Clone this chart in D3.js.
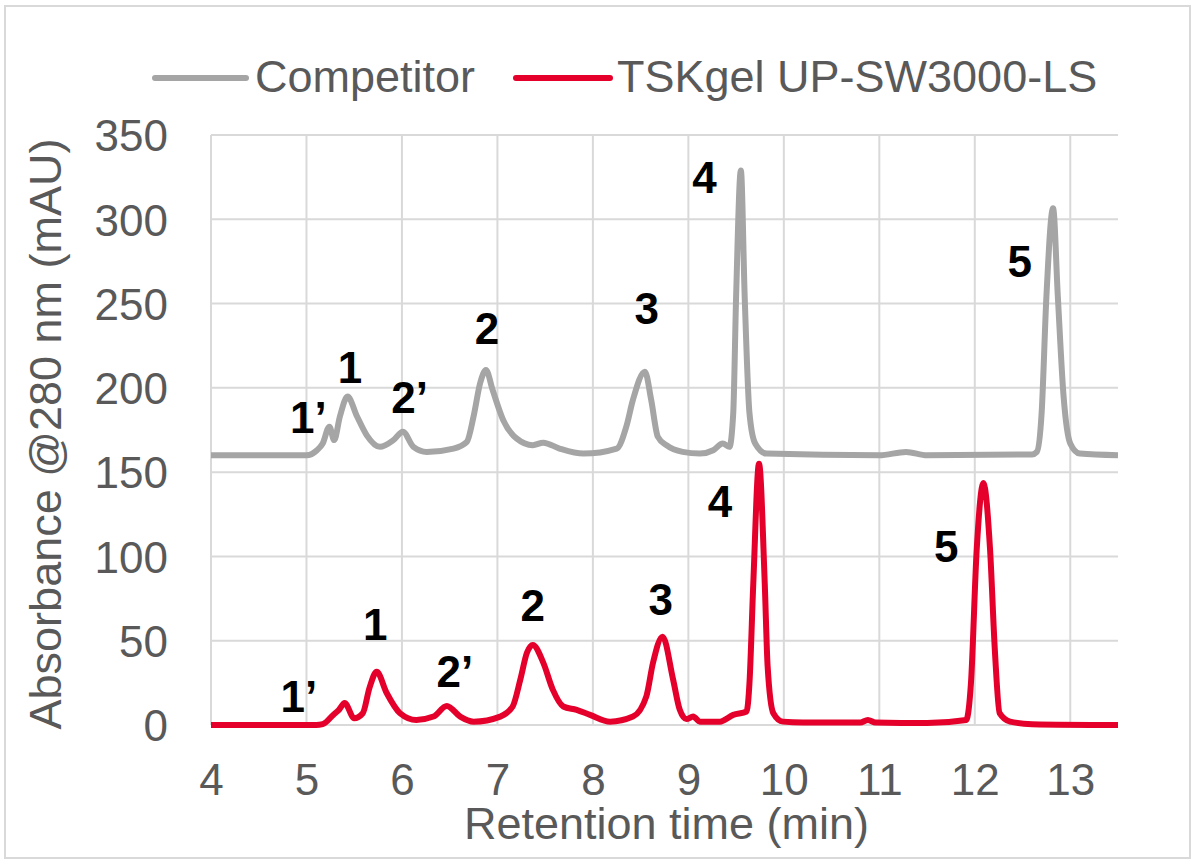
<!DOCTYPE html>
<html>
<head>
<meta charset="utf-8">
<script src="https://cdn.jsdelivr.net/npm/d3@7"></script>
<style>
  html, body { margin: 0; padding: 0; background: #fff; }
  svg { display: block; }
  text { font-family: "Liberation Sans", Arial, sans-serif; }
</style>
</head>
<body>
<svg id="chart" width="1196" height="866"></svg>
<script>
// ---- Data ----
const seriesNames = ["Competitor", "TSKgel UP-SW3000-LS"];
const seriesColors = ["#a5a5a5", "#e4002b"];

const xTicks = [4, 5, 6, 7, 8, 9, 10, 11, 12, 13];
const yTicks = [0, 50, 100, 150, 200, 250, 300, 350];

// Competitor trace (retention time, absorbance)
const competitorTime = [4.0, 5.0, 5.11, 5.17, 5.24, 5.29, 5.35, 5.43, 5.53, 5.63, 5.77, 5.91, 6.01, 6.12, 6.26, 6.54, 6.68, 6.75, 6.82, 6.88, 6.95, 7.06, 7.20, 7.37, 7.48, 7.65, 7.90, 8.25, 8.35, 8.42, 8.545, 8.61, 8.68, 8.77, 8.94, 9.12, 9.26, 9.36, 9.43, 9.47, 9.50, 9.55, 9.59, 9.64, 9.70, 9.82, 11.0, 11.28, 11.5, 12.6, 12.65, 12.70, 12.75, 12.82, 12.87, 12.93, 13.0, 13.10, 13.5];
const competitorAbs  = [160, 160, 163, 167, 177, 169, 183, 194.8, 183, 172, 165, 169, 174, 165, 162, 164, 168, 183, 203, 210.6, 198.7, 181, 170, 166, 167.5, 164, 161, 164, 177, 193, 209.6, 193, 171, 166, 162, 161, 163, 167, 165, 185, 254, 329, 254, 185, 167, 161, 160, 162, 160, 160.5, 162, 185, 254, 306.5, 254, 195, 167, 161, 160];

// TSKgel trace
const tskTime = [4.0, 5.1, 5.17, 5.28, 5.34, 5.40, 5.50, 5.59, 5.66, 5.735, 5.84, 5.98, 6.15, 6.33, 6.47, 6.61, 6.75, 7.03, 7.16, 7.24, 7.31, 7.37, 7.48, 7.58, 7.69, 7.83, 7.97, 8.18, 8.42, 8.56, 8.63, 8.73, 8.84, 8.91, 8.98, 9.05, 9.12, 9.33, 9.47, 9.61, 9.64, 9.68, 9.74, 9.80, 9.83, 9.89, 9.99, 10.2, 10.8, 10.88, 10.96, 11.5, 11.91, 11.96, 12.02, 12.09, 12.16, 12.21, 12.26, 12.37, 12.6, 13.5];
const tskAbs  = [0, 0, 0.5, 6, 9, 13, 4, 7, 22, 31.6, 19, 7, 3, 5, 11.3, 5, 2, 5, 11, 27, 43, 47.5, 37, 21, 11, 9, 6, 2, 5, 17, 37, 52.4, 27, 9, 3.5, 5, 2, 2, 6, 8, 25, 84, 155, 84, 35, 7, 2, 1.5, 1.5, 3, 1.5, 1.2, 3, 25, 104, 143.5, 104, 44.5, 7, 2, 0.5, 0];

// Peak labels (text, retention time of label centre, absorbance at label baseline)
const competitorLabelText = ["1’", "1", "2’", "2", "3", "4", "5"];
const competitorLabelX    = [5.02, 5.455, 6.08, 6.89, 8.565, 9.17, 12.47];
const competitorLabelY    = [173.2, 202.9, 185.1, 226, 237.9, 315.6, 265.8];

const tskLabelText = ["1’", "1", "2’", "2", "3", "4", "5"];
const tskLabelX    = [4.92, 5.72, 6.555, 7.37, 8.71, 9.33, 11.70];
const tskLabelY    = [7.7, 50.4, 22.5, 61.7, 65.3, 123.4, 96.7];

const xTitle = "Retention time (min)";
const yTitle = "Absorbance @280 nm (mAU)";

// ---- Layout ----
const svg = d3.select("#chart");
const plot = { left: 211, right: 1118, top: 135, bottom: 725 };
const textColor = "#595959";
const gridColor = "#d9d9d9";

const x = d3.scaleLinear().domain([4, 13.5]).range([plot.left, plot.right]);
const y = d3.scaleLinear().domain([0, 350]).range([plot.bottom, plot.top]);

// outer border
svg.append("rect")
  .attr("x", 5).attr("y", 6).attr("width", 1185).attr("height", 852)
  .attr("fill", "none").attr("stroke", gridColor).attr("stroke-width", 2);

// gridlines
const grid = svg.append("g");
grid.selectAll("line.h").data(yTicks).join("line")
  .attr("x1", plot.left).attr("x2", plot.right)
  .attr("y1", d => y(d)).attr("y2", d => y(d))
  .attr("stroke", gridColor).attr("stroke-width", 2);
grid.selectAll("line.v").data(xTicks).join("line")
  .attr("y1", plot.top).attr("y2", plot.bottom)
  .attr("x1", d => x(d)).attr("x2", d => x(d))
  .attr("stroke", gridColor).attr("stroke-width", 2);

// axes (labels only, via d3 axes)
const xAxis = d3.axisBottom(x).tickValues(xTicks).tickSize(0).tickPadding(0).tickFormat(d3.format("d"));
const gx = svg.append("g").attr("transform", `translate(0,${plot.bottom})`).call(xAxis);
gx.select(".domain").remove();
gx.selectAll("text").attr("fill", textColor).attr("font-size", 44)
  .attr("font-family", "'Liberation Sans', Arial, sans-serif")
  .attr("y", 70).attr("dy", 0);

const yAxis = d3.axisLeft(y).tickValues(yTicks).tickSize(0).tickPadding(43).tickFormat(d3.format("d"));
const gy = svg.append("g").attr("transform", `translate(${plot.left},0)`).call(yAxis);
gy.select(".domain").remove();
gy.selectAll("text").attr("fill", textColor).attr("font-size", 44)
  .attr("font-family", "'Liberation Sans', Arial, sans-serif")
  .attr("dy", "0.36em");

// axis titles
svg.append("text")
  .attr("x", (plot.left + plot.right) / 2 + 2).attr("y", 839)
  .attr("text-anchor", "middle").attr("fill", textColor).attr("font-size", 45)
  .text(xTitle);
svg.append("text")
  .attr("transform", `translate(61,${(plot.top + plot.bottom) / 2 + 4}) rotate(-90)`)
  .attr("text-anchor", "middle").attr("fill", textColor).attr("font-size", 45)
  .text(yTitle);

// traces
const line = d3.line().x(d => x(d[0])).y(d => y(d[1])).curve(d3.curveMonotoneX);
const competitorData = competitorTime.map((t, i) => [t, competitorAbs[i]]);
const tskData = tskTime.map((t, i) => [t, tskAbs[i]]);

svg.append("path").datum(competitorData)
  .attr("d", line).attr("fill", "none").attr("stroke", seriesColors[0])
  .attr("stroke-width", 6).attr("stroke-linejoin", "round").attr("stroke-linecap", "butt");
svg.append("path").datum(tskData)
  .attr("d", line).attr("fill", "none").attr("stroke", seriesColors[1])
  .attr("stroke-width", 6).attr("stroke-linejoin", "round").attr("stroke-linecap", "butt");

// peak labels
function addLabels(texts, xs, ys) {
  svg.append("g").selectAll("text").data(texts).join("text")
    .attr("x", (d, i) => x(xs[i])).attr("y", (d, i) => y(ys[i]))
    .attr("text-anchor", "middle").attr("font-size", 44).attr("font-weight", "bold")
    .attr("fill", "#000").text(d => d);
}
addLabels(competitorLabelText, competitorLabelX, competitorLabelY);
addLabels(tskLabelText, tskLabelX, tskLabelY);

// legend
const legend = svg.append("g");
const legendItems = [
  { name: seriesNames[0], color: seriesColors[0], x1: 155, x2: 246, tx: 255 },
  { name: seriesNames[1], color: seriesColors[1], x1: 516, x2: 610, tx: 617 }
];
legendItems.forEach(it => {
  legend.append("line").attr("x1", it.x1).attr("x2", it.x2).attr("y1", 78).attr("y2", 78)
    .attr("stroke", it.color).attr("stroke-width", 6).attr("stroke-linecap", "round");
  legend.append("text").attr("x", it.tx).attr("y", 92)
    .attr("fill", textColor).attr("font-size", 45).text(it.name);
});
</script>
</body>
</html>
